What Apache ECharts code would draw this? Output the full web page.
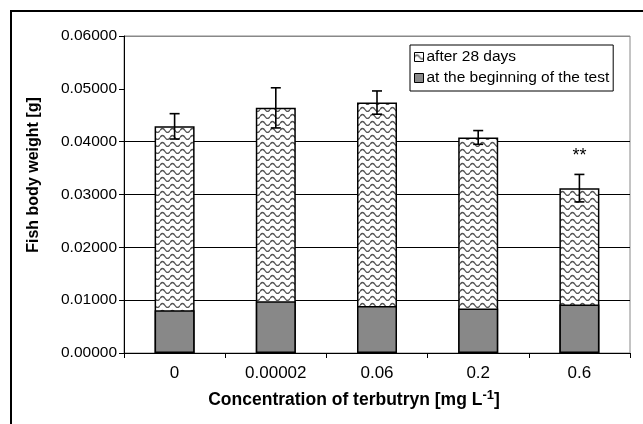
<!DOCTYPE html>
<html>
<head>
<meta charset="utf-8">
<script src="https://cdn.jsdelivr.net/npm/echarts@6/dist/echarts.min.js"></script>
<style>
  html, body { margin: 0; padding: 0; background: #fff; }
  #main { width: 643px; height: 424px; }
</style>
</head>
<body>
<div id="main"></div>
<script>
// 浓度分组
var categories = ['0', '0.00002', '0.06', '0.2', '0.6'];
// 试验开始时体重 (g)
var beginning = [0.0081, 0.0098, 0.0089, 0.0084, 0.0092];
// 28天后体重 (g)
var after28 = [0.0429, 0.0464, 0.0474, 0.0408, 0.0312];
// 28天后标准差
var after28Err = [0.0024, 0.0038, 0.0022, 0.0013, 0.0026];
// 显著性标记
var signif = ['', '', '', '', '**'];

var FONT = 'Arial, "Liberation Sans", sans-serif';

// 波浪纹填充
function makeWave(){
  var c = document.createElement('canvas');
  c.width = 10;
  c.height = 7;
  var ctx = c.getContext('2d');
  ctx.fillStyle = '#fff';
  ctx.fillRect(0, 0, 10, 7);
  ctx.strokeStyle = '#555';
  ctx.lineWidth = 1.4;
  ctx.beginPath();
  ctx.moveTo(0, 4.5);
  ctx.quadraticCurveTo(2.5, 0.5, 5, 4.5);
  ctx.quadraticCurveTo(7.5, 8.5, 10, 4.5);
  ctx.stroke();
  return c;
}

var chart = echarts.init(document.getElementById('main'), null, { renderer: 'canvas' });

var errData = categories.map(function(c, i){
  return [i, after28[i], after28Err[i]];
});

var option = {
  animation: false,
  backgroundColor: '#fff',
  textStyle: { fontFamily: FONT },
  graphic: [{
    type: 'rect',
    shape: { x: 11, y: 11, width: 700, height: 500 },
    style: { fill: 'none', stroke: '#000', lineWidth: 2 },
    silent: true
  }],
  grid: {
    left: 124,
    right: 13,
    top: 36,
    bottom: 71,
    show: true,
    borderColor: '#888',
    borderWidth: 1
  },
  legend: {
    data: ['after 28 days', 'at the beginning of the test'],
    orient: 'vertical',
    left: 410,
    top: 45,
    padding: [4, 4, 5, 4],
    itemGap: 5,
    itemWidth: 9,
    itemHeight: 9,
    icon: 'rect',
    borderColor: '#000',
    borderWidth: 1,
    backgroundColor: '#fff',
    textStyle: { fontFamily: FONT, fontSize: 15.5, color: '#000', padding: [0, 0, 0, -2] },
    itemStyle: { borderColor: '#000', borderWidth: 1 }
  },
  xAxis: {
    type: 'category',
    data: categories,
    name: 'Concentration of terbutryn [mg L{sup|-1}]',
    nameLocation: 'middle',
    nameGap: 36,
    nameTextStyle: {
      fontFamily: FONT,
      fontSize: 17.5,
      fontWeight: 'bold',
      color: '#000',
      padding: [0, 46, 0, 0],
      rich: {
        sup: { fontFamily: FONT, fontSize: 13, fontWeight: 'bold', verticalAlign: 'top', padding: [0, 0, 9, 0] }
      }
    },
    axisLine: { lineStyle: { color: '#000', width: 1 } },
    axisTick: { show: true, length: 5, lineStyle: { color: '#000' } },
    axisLabel: { fontFamily: FONT, fontSize: 17, color: '#000', margin: 12 }
  },
  yAxis: {
    type: 'value',
    min: 0,
    max: 0.06,
    interval: 0.01,
    name: 'Fish body weight [g]',
    nameLocation: 'middle',
    nameRotate: 90,
    nameGap: 82,
    nameTextStyle: {
      fontFamily: FONT,
      fontSize: 16,
      fontWeight: 'bold',
      color: '#000',
      padding: [0, 0, 0, 39]
    },
    axisLine: { show: true, lineStyle: { color: '#000', width: 1 } },
    axisTick: { show: true, length: 5, lineStyle: { color: '#000' } },
    axisLabel: {
      fontFamily: FONT,
      fontSize: 15.5,
      color: '#000',
      margin: 7,
      formatter: function(v){ return v.toFixed(5); }
    },
    splitLine: {
      show: true,
      lineStyle: { color: ['#000', '#000', '#000', '#000', '#000', 'rgba(0,0,0,0)', '#888'], width: 1 }
    }
  },
  series: [{
    name: 'after 28 days',
    type: 'bar',
    data: after28,
    barWidth: 40,
    barGap: '-100%',
    itemStyle: {
      color: { image: makeWave(), repeat: 'repeat' },
      borderColor: '#000',
      borderWidth: 1.5
    }
  }, {
    name: 'at the beginning of the test',
    type: 'bar',
    data: beginning,
    barWidth: 40,
    barGap: '-100%',
    itemStyle: {
      color: '#888',
      borderColor: '#000',
      borderWidth: 1.5
    }
  }, {
    name: 'sd',
    type: 'custom',
    z: 5,
    data: errData,
    encode: { x: 0, y: 1 },
    renderItem: function(params, api){
      var x = api.value(0);
      var y = api.value(1);
      var e = api.value(2);
      var hi = api.coord([x, y + e]);
      var lo = api.coord([x, y - e]);
      var half = 5;
      var style = { stroke: '#000', lineWidth: 1.6 };
      var children = [
        { type: 'line', shape: { x1: hi[0], y1: hi[1], x2: lo[0], y2: lo[1] }, style: style },
        { type: 'line', shape: { x1: hi[0] - half, y1: hi[1], x2: hi[0] + half, y2: hi[1] }, style: style },
        { type: 'line', shape: { x1: lo[0] - half, y1: lo[1], x2: lo[0] + half, y2: lo[1] }, style: style }
      ];
      var mark = signif[params.dataIndex];
      if(mark){
        children.push({
          type: 'text',
          x: hi[0],
          y: hi[1] - 18,
          style: { text: mark, fontFamily: FONT, fontSize: 18, fill: '#000', align: 'center', verticalAlign: 'middle' }
        });
      }
      return { type: 'group', children: children };
    }
  }]
};

chart.setOption(option);
</script>
</body>
</html>
